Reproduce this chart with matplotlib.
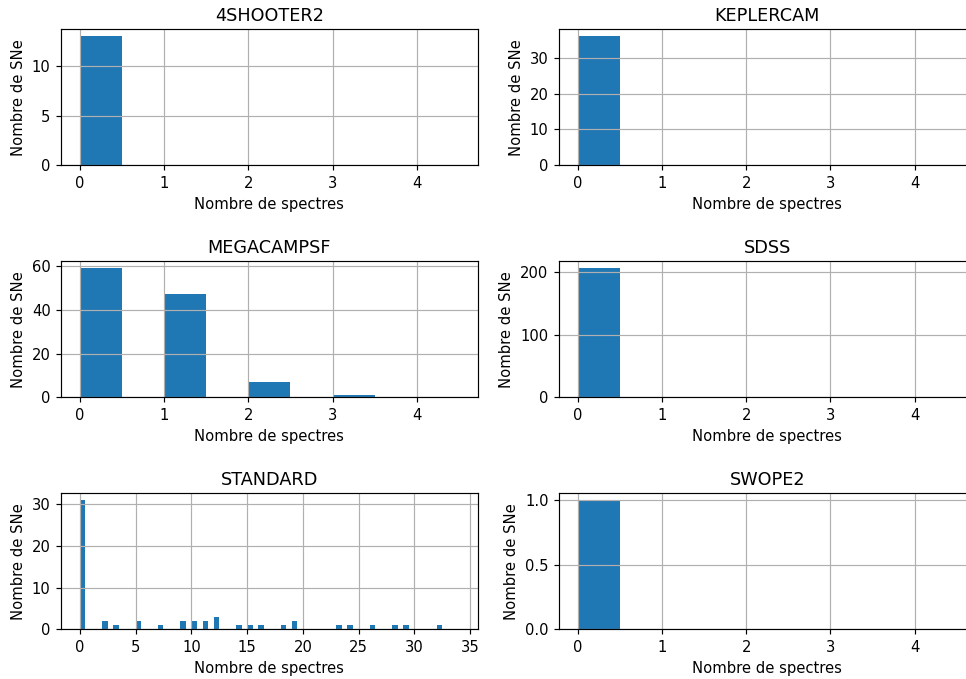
import numpy as np
import matplotlib
matplotlib.use('Agg')
import matplotlib.pyplot as plt

# Number of spectra per SN (bin left edge) and how many SNe fall in each bin
instruments = ['4SHOOTER2', 'KEPLERCAM', 'MEGACAMPSF', 'SDSS', 'STANDARD', 'SWOPE2']

shooter_vals = [0]
shooter_counts = [13]

keplercam_vals = [0]
keplercam_counts = [36]

megacam_vals = [0, 1, 2, 3]
megacam_counts = [59, 47, 7, 1]

sdss_vals = [0]
sdss_counts = [207]

standard_vals = [0, 2, 3, 5, 7, 9, 10, 11, 12, 14, 15, 16, 18, 19, 23, 24, 26, 28, 29, 32]
standard_counts = [31, 2, 1, 2, 1, 2, 2, 2, 3, 1, 1, 1, 1, 2, 1, 1, 1, 1, 1, 1]

swope_vals = [0]
swope_counts = [1]

data = {
    '4SHOOTER2': (shooter_vals, shooter_counts),
    'KEPLERCAM': (keplercam_vals, keplercam_counts),
    'MEGACAMPSF': (megacam_vals, megacam_counts),
    'SDSS': (sdss_vals, sdss_counts),
    'STANDARD': (standard_vals, standard_counts),
    'SWOPE2': (swope_vals, swope_counts),
}


def main():
    dpi = 106
    fig, axes = plt.subplots(3, 2, figsize=(967 / dpi, 679 / dpi), dpi=dpi)
    fig.subplots_adjust(left=0.063, right=1.009, top=0.9566, bottom=0.073,
                        wspace=0.194, hspace=0.706)

    for ax, name in zip(axes.flatten(), instruments):
        vals, counts = data[name]
        # bins of width 0.5, same as the original histograms
        if max(vals) < 4:
            bins = np.arange(0, 5, 0.5)
        else:
            bins = np.arange(0, 34.5, 0.5)
        ax.hist(vals, bins=bins, weights=counts, color='#1f77b4')
        ax.grid(True)
        ax.set_title(name)
        ax.set_xlabel('Nombre de spectres')
        ax.set_ylabel('Nombre de SNe')

    fig.savefig('out.png', dpi=dpi)


if __name__ == "__main__":
    main()
